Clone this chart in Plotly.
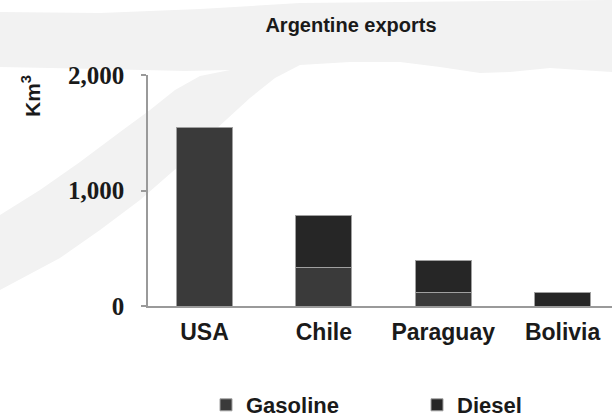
import plotly.graph_objects as go

countries = ["USA", "Chile", "Paraguay", "Bolivia"]
gasoline = [1545, 330, 113, 0]
diesel = [0, 450, 277, 121]
y_ticks = [0, 1000, 2000]
y_tick_labels = ["0", "1,000", "2,000"]

W, H = 612, 417
L, R, T, B = 148, 0, 75, 111
PW, PH = W - L - R, H - T - B


def px(x, y):
    return (x - L) / PW, (H - B - y) / PH


def path(points):
    s = ""
    for i, (x, y) in enumerate(points):
        a, b = px(x, y)
        s += ("M" if i == 0 else "L") + f"{a:.4f},{b:.4f} "
    return s + "Z"


bg_pts = [(0, 12), (100, 13), (200, 9), (300, 3), (400, 2), (500, 1), (612, 0),
          (612, 72), (580, 70), (550, 68), (510, 72), (480, 73), (440, 67),
          (400, 62), (350, 62), (300, 65), (275, 78), (250, 98), (215, 130),
          (180, 165), (140, 200), (100, 230), (60, 258), (0, 290),
          (0, 215), (40, 190), (80, 162), (120, 132), (150, 110), (175, 90),
          (200, 76), (230, 70), (185, 71), (100, 69), (0, 67)]

fig = go.Figure()
fig.add_trace(go.Bar(
    x=countries, y=gasoline, name="<b>Gasoline</b>",
    marker=dict(color="#3a3a3a", line=dict(color="#a0a0a0", width=1)),
))
fig.add_trace(go.Bar(
    x=countries, y=diesel, name="<b>Diesel</b>",
    marker=dict(color="#262626", line=dict(color="#a0a0a0", width=1)),
))

fig.update_layout(
    width=W, height=H,
    barmode="stack", bargap=0.53,
    margin=dict(l=L, r=R, t=T, b=B, pad=0),
    paper_bgcolor="white", plot_bgcolor="rgba(0,0,0,0)",
    font=dict(family="Liberation Sans, Arial", color="#1a1a1a"),
    title=dict(text="<b>Argentine exports</b>", x=351 / W, xanchor="center",
               xref="container", y=1 - 25 / H, yanchor="middle", yref="container",
               font=dict(size=20, family="Liberation Sans, Arial", color="#1a1a1a")),
    xaxis=dict(range=[-0.473, 3.414], showline=True, linecolor="#9a9a9a",
               linewidth=1.5, ticks="", showgrid=False, zeroline=False,
               ticklabelstandoff=5,
               tickfont=dict(size=23, family="Liberation Sans, Arial", color="#1a1a1a"),
               tickprefix="<b>", ticksuffix="</b>"),
    yaxis=dict(range=[0, 2000], tickvals=y_ticks, ticktext=[f"<b>{t}</b>" for t in y_tick_labels],
               showline=True, linecolor="#9a9a9a", linewidth=1.5,
               ticks="outside", ticklen=5, tickcolor="#9a9a9a", tickwidth=1.5,
               showgrid=False, zeroline=False, ticklabelstandoff=12,
               tickfont=dict(size=25, family="Liberation Serif, Times New Roman", color="#1a1a1a")),
    legend=dict(orientation="h", xref="container", yref="container",
                x=206 / W, xanchor="left", y=1 - 405 / H, yanchor="middle",
                entrywidth=166, entrywidthmode="pixels",
                font=dict(size=22, family="Liberation Sans, Arial", color="#1a1a1a"),
                bgcolor="rgba(0,0,0,0)", traceorder="normal"),
    shapes=[dict(type="path", path=path(bg_pts), xref="paper", yref="paper",
                 fillcolor="#f2f2f2", line=dict(width=0), layer="below")],
    annotations=[dict(text="<b>Km<sup>3</sup></b>", xref="paper", yref="paper",
                      x=px(31, 96)[0], y=px(31, 96)[1], showarrow=False,
                      textangle=-90, xanchor="center", yanchor="middle",
                      font=dict(size=21, family="Liberation Sans, Arial", color="#1a1a1a"))],
)

fig.write_html("out.html")
